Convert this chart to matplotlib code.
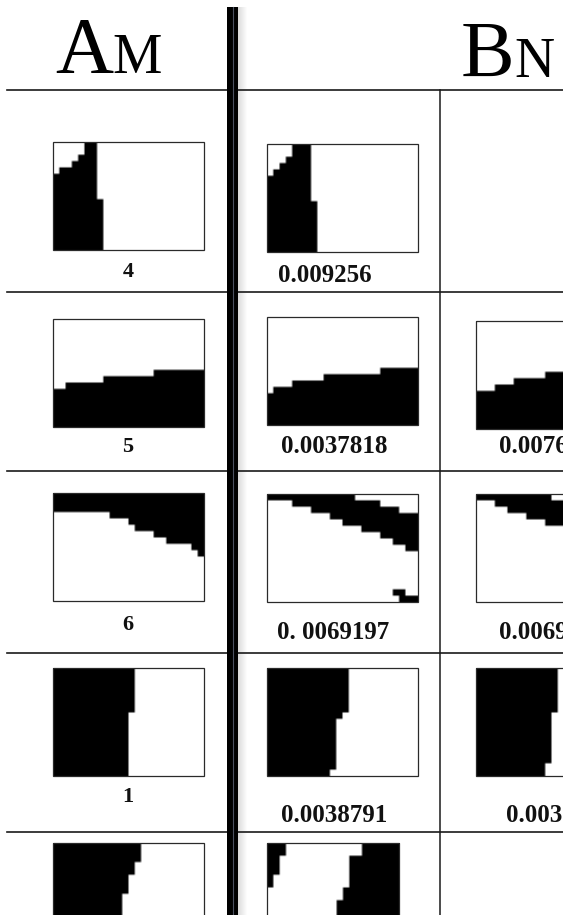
import numpy as np
import matplotlib.pyplot as plt
from matplotlib.patches import Rectangle

# ---- table text ----
head_a = ("A", "M")
head_b = ("B", "N")
labels_a = ["4", "5", "6", "1"]
labels_b = ["0.009256", "0.0037818", "0. 0069197", "0.0038791"]
labels_c = ["0.0076", "0.0069", "0.003"]  # cut off by the right edge

# ---- patch content: binary cells (0 = black) ----
# rows 1, 4, 5: for each pixel row, black from *_left up to *_edge (columns)
a1_left = [5, 5, 4, 3, 1, 0, 0, 0, 0, 0, 0, 0, 0, 0, 0, 0, 0]
a1_edge = [7, 7, 7, 7, 7, 7, 7, 7, 7, 8, 8, 8, 8, 8, 8, 8, 8]
b1_left = [4, 4, 3, 2, 1, 0, 0, 0, 0, 0, 0, 0, 0, 0, 0, 0, 0]
b1_edge = [7, 7, 7, 7, 7, 7, 7, 7, 7, 8, 8, 8, 8, 8, 8, 8, 8]

a4_edge = [13, 13, 13, 13, 13, 13, 13, 12, 12, 12, 12, 12, 12, 12, 12, 12, 12]
b4_edge = [13, 13, 13, 13, 13, 13, 13, 12, 11, 11, 11, 11, 11, 11, 11, 11, 10]
c4_edge = [13, 13, 13, 13, 13, 13, 13, 12, 12, 12, 12, 12, 12, 12, 12, 11, 11]

a5_edge = [14, 14, 14, 13, 13, 12, 12, 12, 11, 11, 11, 11, 10, 10, 10, 10, 10]
b5_strip = [3, 3, 2, 2, 2, 1, 1, 0, 0, 0, 0, 0, 0, 0, 0, 0, 0]
b5_right = [15, 15, 13, 13, 13, 13, 13, 12, 12, 11, 11, 11, 10, 10, 10, 10, 10]

# row 2: for each column, first black pixel row (black down to the bottom)
a2_top = [11, 11, 10, 10, 10, 10, 10, 10, 9, 9, 9, 9, 9, 9, 9, 9,
          8, 8, 8, 8, 8, 8, 8, 8]
b2_top = [12, 11, 11, 11, 10, 10, 10, 10, 10, 9, 9, 9, 9, 9, 9, 9,
          9, 9, 8, 8, 8, 8, 8, 8]
c2_top = [11, 11, 11, 10, 10, 10, 9, 9, 9, 9, 9, 8, 8, 8, 8, 8,
          8, 8, 8, 8, 7, 7, 7, 7]

# row 3: black band, for each column from *_top down to *_bot
a3_top = [0] * 24
a3_bot = [3, 3, 3, 3, 3, 3, 3, 3, 3, 4, 4, 4, 5, 6, 6, 6,
          7, 7, 8, 8, 8, 8, 9, 10]
b3_top = [0, 0, 0, 0, 0, 0, 0, 0, 0, 0, 0, 0, 0, 0, 1, 1,
          1, 1, 2, 2, 2, 3, 3, 3]
b3_bot = [1, 1, 1, 1, 2, 2, 2, 3, 3, 3, 4, 4, 5, 5, 5, 6,
          6, 6, 7, 7, 8, 8, 9, 9]
b3_spot = [(15, 20), (15, 21), (16, 21), (16, 22), (16, 23)]
c3_top = [0, 0, 0, 0, 0, 0, 0, 0, 0, 0, 0, 0, 1, 1, 1, 1,
          2, 2, 2, 2, 3, 3, 3, 3]
c3_bot = [1, 1, 1, 2, 2, 3, 3, 3, 4, 4, 4, 5, 5, 5, 6, 6,
          6, 7, 7, 7, 8, 8, 9, 9]

NR, NC = 17, 24


def rows_grid(nc, *runs):
    g = np.ones((NR, nc))
    for starts, ends in runs:
        for r, (s, e) in enumerate(zip(starts, ends)):
            g[r, s:e] = 0
    return g


def cols_grid(tops, bots=None, spots=()):
    g = np.ones((NR, len(tops)))
    for c, t in enumerate(tops):
        b = NR if bots is None else bots[c]
        g[t:b, c] = 0
    for r, c in spots:
        g[r, c] = 0
    return g


zero = [0] * NR
# (column, row) -> grid
patches = {
    (0, 0): rows_grid(NC, (a1_left, a1_edge)),
    (1, 0): rows_grid(NC, (b1_left, b1_edge)),
    (0, 1): cols_grid(a2_top),
    (1, 1): cols_grid(b2_top),
    (2, 1): cols_grid(c2_top),
    (0, 2): cols_grid(a3_top, a3_bot),
    (1, 2): cols_grid(b3_top, b3_bot, b3_spot),
    (2, 2): cols_grid(c3_top, c3_bot),
    (0, 3): rows_grid(NC, (zero, a4_edge)),
    (1, 3): rows_grid(NC, (zero, b4_edge)),
    (2, 3): rows_grid(NC, (zero, c4_edge)),
    (0, 4): rows_grid(NC, (zero, a5_edge)),
    (1, 4): rows_grid(21, (zero, b5_strip), (b5_right, [21] * NR)),
}

# ---- layout (pixels of the 563 x 915 picture) ----
W, H = 563, 915
cell_w, cell_h = 6.29, 6.35
col_x = [53, 267, 476]
row_top = [[142, 319, 493, 668, 843],
           [144, 317, 494, 668, 843],
           [None, 321, 494, 668, None]]
rule_y = [90, 292, 471, 653, 832]
lab_a_base = [277, 452, 630, 802]
lab_b_base = [282, 453, 639, 822]
lab_b_x = [325, 334, 333, 334]
lab_c_base = [453, 639, 822]
lab_c_x = [499, 499, 506]

serif = ["Liberation Serif", "DejaVu Serif"]

fig = plt.figure(figsize=(W / 100, H / 100), dpi=100)
ax = fig.add_axes([0, 0, 1, 1])
ax.axis("off")

# patches
for (c, r), g in patches.items():
    x0, y0 = col_x[c], row_top[c][r]
    x1, y1 = x0 + g.shape[1] * cell_w, y0 + g.shape[0] * cell_h
    big = np.kron(g, np.ones((3, 3)))
    ax.imshow(big, cmap="gray", vmin=0, vmax=1, extent=(x0, x1, y1, y0),
              interpolation="bilinear", aspect="auto", zorder=2)
    ax.add_patch(Rectangle((x0, y0), x1 - x0, y1 - y0, fill=False,
                           ec="#2a2a2a", lw=0.9, zorder=3))

# table rules
for y in rule_y:
    ax.plot([7, W], [y, y], color="#1a1a1a", lw=1.2, zorder=4)
ax.plot([440, 440], [rule_y[0], H], color="#1a1a1a", lw=1.1, zorder=4)

# thick double rule with soft shadow
shade = np.linspace(0.86, 1.0, 10)[None, :]
ax.imshow(shade, cmap="gray", vmin=0, vmax=1, extent=(238, 248, H, 7),
          interpolation="bilinear", aspect="auto", zorder=1)
ax.add_patch(Rectangle((227, 7), 11, H - 7, fc="black", ec="none", zorder=5))
ax.plot([232.5, 232.5], [7, H], color="#4b5160", lw=0.8, zorder=6)

# header
ax.text(55, 73, head_a[0], fontsize=58, family=serif, va="baseline", ha="left")
ax.text(112, 73, head_a[1], fontsize=40, family=serif, va="baseline", ha="left")
ax.text(461, 77, head_b[0], fontsize=58, family=serif, va="baseline", ha="left")
ax.text(514, 77, head_b[1], fontsize=40, family=serif, va="baseline", ha="left")

# labels under the patches
for t, yb in zip(labels_a, lab_a_base):
    ax.text(128, yb, t, fontsize=16, family=serif, weight="bold",
            color="#111111", ha="center", va="baseline")
for t, xc, yb in zip(labels_b, lab_b_x, lab_b_base):
    ax.text(xc, yb, t, fontsize=18, family=serif, weight="bold",
            color="#111111", ha="center", va="baseline")
for t, xl, yb in zip(labels_c, lab_c_x, lab_c_base):
    ax.text(xl, yb, t, fontsize=18, family=serif, weight="bold",
            color="#111111", ha="left", va="baseline")

ax.set_xlim(0, W)
ax.set_ylim(H, 0)
fig.savefig("out.png", dpi=100)
